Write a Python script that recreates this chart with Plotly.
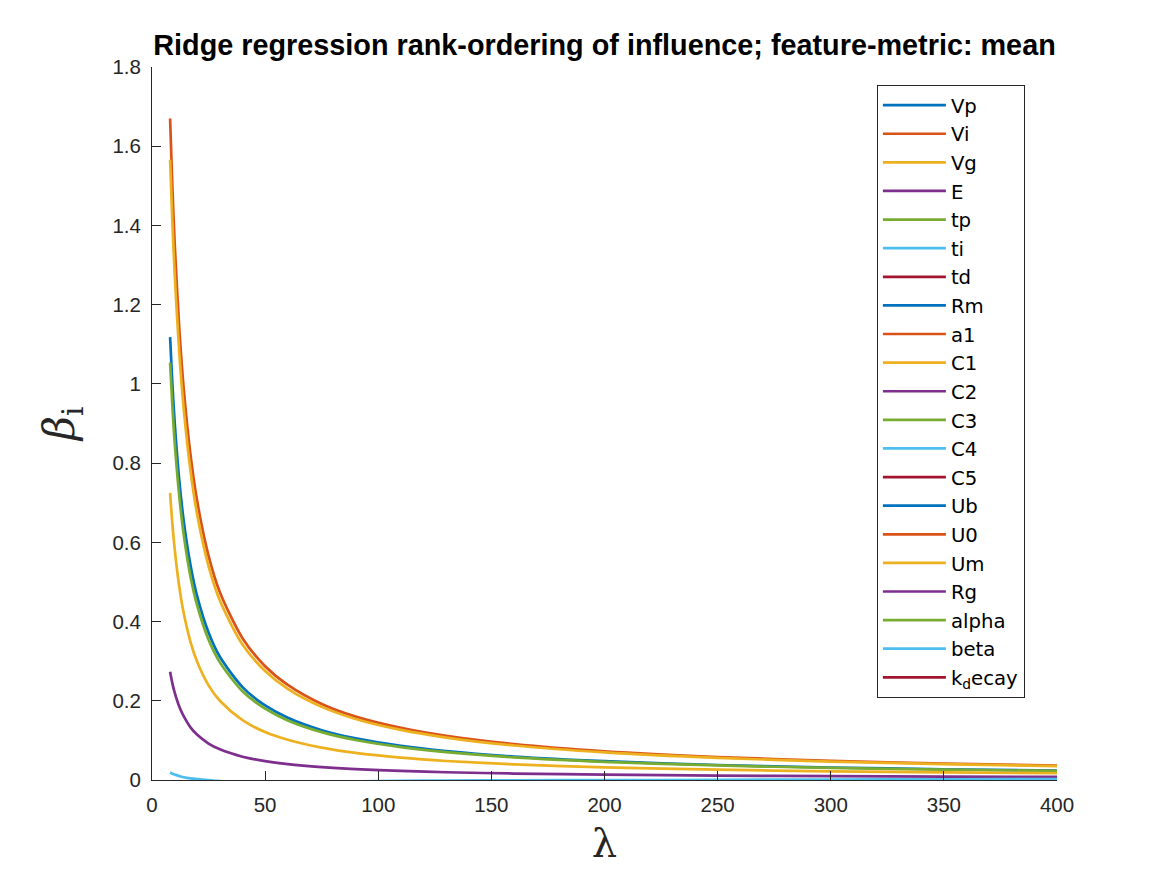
import plotly.graph_objects as go

# ---------------- data ----------------
lam = [8, 9, 10, 12, 14, 17, 20, 25, 30, 40, 50, 60, 75, 90, 110, 130, 160, 200, 250, 300, 350, 400]

Vp = [1.118, 1.000, 0.905, 0.760, 0.655, 0.543, 0.463, 0.3725, 0.311, 0.2346, 0.1881, 0.157, 0.1258, 0.105, 0.086, 0.0728, 0.0592, 0.0474, 0.0379, 0.0316, 0.0271, 0.0237]
Vi = [1.670, 1.498, 1.358, 1.145, 0.989, 0.822, 0.703, 0.566, 0.474, 0.358, 0.287, 0.240, 0.192, 0.160, 0.1315, 0.1114, 0.0906, 0.0725, 0.0581, 0.0484, 0.0415, 0.0363]
Vg = [1.566, 1.409, 1.280, 1.083, 0.938, 0.781, 0.669, 0.540, 0.453, 0.342, 0.275, 0.230, 0.1846, 0.1541, 0.1264, 0.1071, 0.0871, 0.0698, 0.0559, 0.0466, 0.0399, 0.0350]
E = [0.273, 0.244, 0.221, 0.186, 0.161, 0.133, 0.114, 0.092, 0.0774, 0.0588, 0.0475, 0.040, 0.0325, 0.0274, 0.0228, 0.0196, 0.0163, 0.0135, 0.0112, 0.0097, 0.0086, 0.0077]
tp = [1.054, 0.945, 0.855, 0.720, 0.620, 0.514, 0.440, 0.354, 0.297, 0.224, 0.180, 0.1505, 0.1208, 0.1009, 0.0828, 0.0702, 0.0571, 0.0458, 0.0367, 0.0306, 0.0262, 0.0229]
ti = [0.019, 0.016, 0.014, 0.010, 0.007, 0.004, 0.002, -0.0005, -0.003, -0.007, -0.010, -0.012, -0.014, -0.015, -0.016, -0.016, -0.015, -0.014, -0.013, -0.012, -0.011, -0.010]
C1 = [0.725, 0.647, 0.585, 0.490, 0.422, 0.349, 0.298, 0.239, 0.200, 0.151, 0.121, 0.1015, 0.0817, 0.0684, 0.0564, 0.048, 0.0394, 0.032, 0.026, 0.022, 0.0191, 0.017]
beta = [-0.060, -0.055, -0.050, -0.043, -0.037, -0.031, -0.027, -0.021, -0.017, -0.012, -0.009, -0.007, -0.005, -0.0035, -0.0022, -0.0013, -0.0007, -0.0004, 0.0005, 0.0012, 0.0019, 0.0025]

# features with negative coefficients (below the visible range)
lam_neg = [8, 12, 20, 40, 80, 150, 250, 400]
td = [-0.42, -0.28, -0.168, -0.084, -0.042, -0.022, -0.013, -0.008]
Rm = [-0.95, -0.63, -0.38, -0.19, -0.095, -0.05, -0.03, -0.019]
a1 = [-0.31, -0.21, -0.124, -0.062, -0.031, -0.017, -0.011, -0.008]
C2 = [-0.65, -0.43, -0.26, -0.13, -0.065, -0.034, -0.021, -0.013]
C3 = [-0.36, -0.24, -0.145, -0.072, -0.036, -0.019, -0.012, -0.008]
C4 = [-0.40, -0.27, -0.16, -0.08, -0.04, -0.021, -0.013, -0.008]
C5 = [-0.78, -0.52, -0.31, -0.156, -0.078, -0.041, -0.025, -0.0156]
Ub = [-0.55, -0.37, -0.22, -0.11, -0.055, -0.029, -0.0176, -0.011]
U0 = [-1.25, -0.83, -0.5, -0.25, -0.125, -0.066, -0.04, -0.025]
Um = [-0.38, -0.25, -0.152, -0.076, -0.038, -0.02, -0.012, -0.008]
Rg = [-0.44, -0.29, -0.176, -0.088, -0.044, -0.023, -0.014, -0.009]
alpha = [-0.48, -0.32, -0.192, -0.096, -0.048, -0.025, -0.0154, -0.0096]
k_decay = [-0.46, -0.31, -0.184, -0.092, -0.046, -0.024, -0.015, -0.009]

names = ["Vp", "Vi", "Vg", "E", "tp", "ti", "td", "Rm", "a1", "C1", "C2", "C3", "C4", "C5",
         "Ub", "U0", "Um", "Rg", "alpha", "beta", "k<sub>d</sub>ecay"]
series = [Vp, Vi, Vg, E, tp, ti, td, Rm, a1, C1, C2, C3, C4, C5, Ub, U0, Um, Rg, alpha, beta, k_decay]

xticks = [0, 50, 100, 150, 200, 250, 300, 350, 400]
yticks = [0, 0.2, 0.4, 0.6, 0.8, 1.0, 1.2, 1.4, 1.6, 1.8]
ytick_text = ["0", "0.2", "0.4", "0.6", "0.8", "1", "1.2", "1.4", "1.6", "1.8"]

colors = ["#0072BD", "#D95319", "#EDB120", "#7E2F8E", "#77AC30", "#4DBEEE", "#A2142F"]

# ---------------- figure ----------------
fig = go.Figure()
for i, (nm, ys) in enumerate(zip(names, series)):
    xs = lam if len(ys) == len(lam) else lam_neg
    fig.add_trace(go.Scatter(
        x=xs, y=ys, mode="lines", name=nm, legendgroup=nm,
        line=dict(color=colors[i % 7], width=2.7, shape="spline", smoothing=0.8),
    ))

axis_col = "#262626"
fig.update_layout(
    width=1167, height=875,
    paper_bgcolor="white", plot_bgcolor="white",
    margin=dict(l=144, r=118, t=59, b=103),
    font=dict(family="Liberation Sans, Arial, sans-serif", color=axis_col),
    title=dict(
        text="<b>Ridge regression rank-ordering of influence; feature-metric: mean</b>",
        x=0.5, xref="paper", y=0.958, yref="container", xanchor="center", yanchor="middle",
        font=dict(size=28.8, color="black", family="Liberation Sans, Arial, sans-serif"),
    ),
    xaxis=dict(
        range=[0, 400], tickvals=xticks, ticktext=[str(v) for v in xticks],
        ticks="inside", ticklen=9, tickwidth=1, tickcolor=axis_col,
        showline=True, linecolor=axis_col, linewidth=1, showgrid=False, zeroline=False,
        tickfont=dict(size=20.5, color=axis_col), ticklabelstandoff=6,
        title=dict(text="λ", font=dict(size=40, family="DejaVu Serif, Liberation Serif, serif", color=axis_col), standoff=14),
    ),
    yaxis=dict(
        range=[0, 1.8], tickvals=yticks, ticktext=ytick_text,
        ticks="inside", ticklen=9, tickwidth=1, tickcolor=axis_col,
        showline=True, linecolor=axis_col, linewidth=1, showgrid=False, zeroline=False,
        tickfont=dict(size=20.5, color=axis_col), ticklabelstandoff=6,
        title=dict(text="<i>β</i><sub>i</sub>", font=dict(size=42, family="DejaVu Serif, Liberation Serif, serif", color=axis_col), standoff=24),
    ),
    legend=dict(
        x=0.801, y=0.975, xanchor="left", yanchor="top",
        bgcolor="white", bordercolor=axis_col, borderwidth=1,
        font=dict(size=19.7, color="black", family="DejaVu Sans, Liberation Sans, sans-serif"),
        tracegroupgap=0, itemwidth=63,
    ),
    showlegend=True,
)

fig.write_html("out.html")
